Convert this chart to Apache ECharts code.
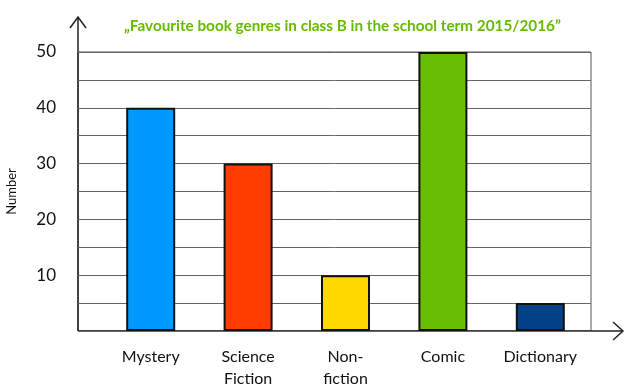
<!DOCTYPE html>
<html lang="en">
<head>
<meta charset="UTF-8" />
<title>Favourite book genres</title>
<script src="https://cdn.jsdelivr.net/npm/echarts@6/dist/echarts.min.js"></script>
</head>
<body style="margin:0">
<div id="main" style="width:625px;height:388px;"></div>
<script>
// data
var genres = ['Mystery', 'Science\nFiction', 'Non-\nfiction', 'Comic', 'Dictionary'];
var counts = [40, 30, 10, 50, 5];
var barColors = ['#0099ff', '#ff3c00', '#ffd800', '#66bf00', '#00418a'];
var yTicks = [10, 20, 30, 40, 50];

// plot frame
var L = 78, R = 34, T = 52, B = 57;
var W = 625, H = 388;
var axisColor = '#222';

var chart = echarts.init(document.getElementById('main'));

var option = {
  animation: false,
  title: {
    text: '\u201eFavourite book genres in class B in the school term 2015/2016\u201d',
    left: 119,
    top: 14,
    textStyle: { color: '#66bb00', fontFamily: 'Lato', fontWeight: 'bold', fontSize: 15.3 }
  },
  grid: [
    { left: L, right: R, top: T, bottom: B, show: true, borderColor: '#555', borderWidth: 1, outerBoundsMode: 'none' },
    { left: 102, right: 36, top: T, bottom: B, outerBoundsMode: 'none' }
  ],
  xAxis: [
    { gridIndex: 0, type: 'value', min: 0, max: 1, show: false },
    {
      gridIndex: 1, type: 'category', data: genres,
      axisLine: { show: false }, axisTick: { show: false },
      axisLabel: { margin: 15, fontSize: 16, lineHeight: 22, color: '#111', fontFamily: 'Lato' }
    }
  ],
  yAxis: [
    {
      gridIndex: 0, type: 'value', min: 0, max: 50, interval: 5,
      name: 'Number', nameLocation: 'middle', nameGap: 60, nameRotate: 90,
      nameTextStyle: { fontSize: 13, color: '#111', fontFamily: 'Lato' },
      axisLine: { show: false }, axisTick: { show: false },
      axisLabel: {
        margin: 22, fontSize: 17, color: '#111', fontFamily: 'Lato',
        formatter: function (v) { return yTicks.indexOf(v) >= 0 ? String(v) : ''; }
      },
      splitLine: { lineStyle: { color: '#666', width: 1 } }
    },
    { gridIndex: 1, type: 'value', min: 0, max: 50, show: false }
  ],
  series: [{
    type: 'bar',
    xAxisIndex: 1,
    yAxisIndex: 1,
    barWidth: 49,
    data: counts.map(function (v, i) {
      return { value: v, itemStyle: { color: barColors[i] } };
    }),
    itemStyle: { borderColor: '#111', borderWidth: 2 }
  }],
  graphic: [
    // y axis with open arrow head
    { type: 'polyline', shape: { points: [[L, H - B], [L, 17]] }, style: { stroke: axisColor, lineWidth: 1.5, fill: null } },
    { type: 'polyline', shape: { points: [[L - 8, 28], [L, 17], [L + 8, 28]] }, style: { stroke: axisColor, lineWidth: 1.5, fill: null } },
    // x axis with open arrow head
    { type: 'polyline', shape: { points: [[L, H - B], [W - 2, H - B]] }, style: { stroke: axisColor, lineWidth: 1.5, fill: null } },
    { type: 'polyline', shape: { points: [[W - 12, H - B - 9], [W - 2, H - B], [W - 12, H - B + 9]] }, style: { stroke: axisColor, lineWidth: 1.5, fill: null } }
  ]
};

chart.setOption(option);
</script>
</body>
</html>
